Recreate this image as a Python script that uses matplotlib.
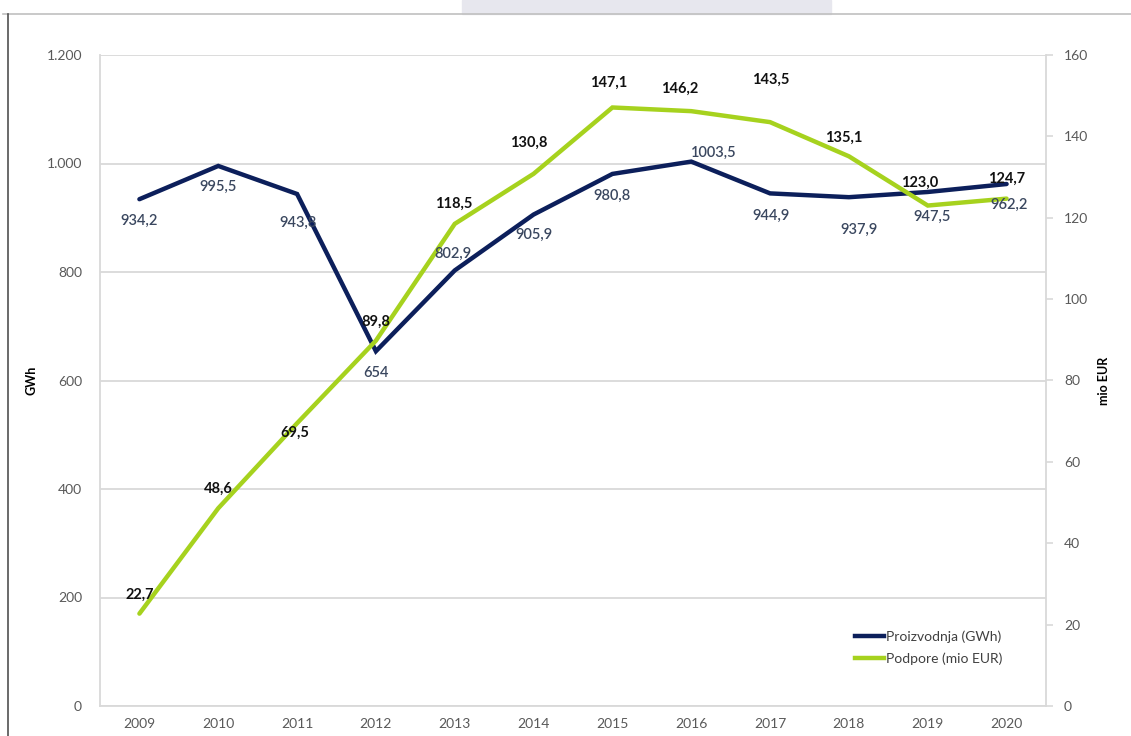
import matplotlib
matplotlib.use("Agg")
import matplotlib.pyplot as plt
from matplotlib.lines import Line2D
from matplotlib.patches import Rectangle

years = ["2009", "2010", "2011", "2012", "2013", "2014", "2015", "2016", "2017", "2018", "2019", "2020"]
proizvodnja = [934.2, 995.5, 943.8, 654, 802.9, 905.9, 980.8, 1003.5, 944.9, 937.9, 947.5, 962.2]
podpore = [22.7, 48.6, 69.5, 89.8, 118.5, 130.8, 147.1, 146.2, 143.5, 135.1, 123.0, 124.7]
proizvodnja_labels = ["934,2", "995,5", "943,8", "654", "802,9", "905,9", "980,8", "1003,5", "944,9", "937,9", "947,5", "962,2"]
podpore_labels = ["22,7", "48,6", "69,5", "89,8", "118,5", "130,8", "147,1", "146,2", "143,5", "135,1", "123,0", "124,7"]
left_ticks = [0, 200, 400, 600, 800, 1000, 1200]
left_tick_labels = ["0", "200", "400", "600", "800", "1.000", "1.200"]
right_ticks = [0, 20, 40, 60, 80, 100, 120, 140, 160]

# label offsets in pixels (dx, dy) relative to the data point
prod_off = [(0, -22), (0, -21), (1, -29), (0, -22), (-2, 17), (0, -20), (0, -22),
            (23, 9), (1, -22), (10, -33), (4, -25), (2, -21)]
pod_off = [(0, 19), (0, 19), (-2, -10), (0, 19), (-1, 20), (-5, 31), (-4, 25),
           (-12, 22), (1, 42), (-5, 19), (-8, 23), (0, 20)]

NAVY = "#0c1f5b"
GREEN = "#a6d21e"
GRID = "#d9d9d9"
TICK = "#595959"
LABEL_NAVY = "#3a475f"

plt.rcParams['font.family'] = ['Lato', 'DejaVu Sans']

W, H = 1131, 736
fig = plt.figure(figsize=(W / 100, H / 100), dpi=100)

# decorative frame
TOPLINE = 14
fig.patches.append(Rectangle((462 / W, 1 - TOPLINE / H), (831 - 462) / W, TOPLINE / H,
                             transform=fig.transFigure, color="#e7e7ee", zorder=0))
fig.add_artist(Line2D([3 / W, 1], [1 - TOPLINE / H, 1 - TOPLINE / H], transform=fig.transFigure,
                      color="#c0c0c0", lw=1.2))
fig.add_artist(Line2D([8 / W, 8 / W], [0, 1 - TOPLINE / H], transform=fig.transFigure,
                      color="#505050", lw=1.2))

left, right, top, bottom = 100, 1046, 55, 706
ax = fig.add_axes([left / W, 1 - bottom / H, (right - left) / W, (bottom - top) / H])
ax2 = ax.twinx()

x = list(range(len(years)))
ax.plot(x, proizvodnja, color=NAVY, lw=3.2, solid_capstyle="round", solid_joinstyle="miter",
        label="Proizvodnja (GWh)", zorder=3)
ax2.plot(x, podpore, color=GREEN, lw=3.2, solid_capstyle="round", solid_joinstyle="miter",
         label="Podpore (mio EUR)", zorder=3)

ax.set_xlim(-0.5, len(years) - 0.5)
ax.set_ylim(0, 1200)
ax2.set_ylim(0, 160)
ax.set_yticks(left_ticks)
ax.set_yticklabels(left_tick_labels)
ax2.set_yticks(right_ticks)
ax.set_xticks(x)
ax.set_xticklabels(years)

ax.grid(axis="y", color=GRID, lw=1.3)
ax.set_axisbelow(True)
for s in ["top", "right"]:
    ax.spines[s].set_visible(False)
for s in ["top", "left", "bottom"]:
    ax2.spines[s].set_visible(False)
ax.spines["left"].set_color(GRID)
ax.spines["left"].set_linewidth(1.3)
ax.spines["bottom"].set_color(GRID)
ax.spines["bottom"].set_linewidth(1.3)
ax2.spines["right"].set_color(GRID)
ax2.spines["right"].set_linewidth(1.3)

ax.tick_params(axis="y", length=0, pad=13, labelsize=10, labelcolor=TICK)
ax.tick_params(axis="x", length=0, pad=9, labelsize=10, labelcolor=TICK)
ax2.tick_params(axis="y", length=5, width=1.2, color=GRID, pad=8, labelsize=10, labelcolor=TICK)

ax.set_ylabel("GWh", fontsize=9, fontweight="bold", color="#000000")
ax.yaxis.set_label_coords((38 - left) / (right - left), 0.5)
ax2.set_ylabel("mio EUR", fontsize=9, fontweight="bold", color="#000000")
ax2.yaxis.set_label_coords((1098 - left) / (right - left), 0.5)

for i in x:
    ax2.annotate(proizvodnja_labels[i], (i, proizvodnja[i]), xycoords=ax.transData,
                 xytext=prod_off[i], textcoords="offset pixels", ha="center", va="center",
                 fontsize=10.5, fontweight="semibold", color=LABEL_NAVY, zorder=5)
    ax2.annotate(podpore_labels[i], (i, podpore[i]), xycoords=ax2.transData,
                 xytext=pod_off[i], textcoords="offset pixels", ha="center", va="center",
                 fontsize=10.5, fontweight="bold", color="#111111", zorder=5)

handles = [Line2D([], [], color=NAVY, lw=3.2), Line2D([], [], color=GREEN, lw=3.2)]
fig.legend(handles, ["Proizvodnja (GWh)", "Podpore (mio EUR)"], loc="upper left",
           bbox_to_anchor=(842 / W, 1 - 618 / H), frameon=False, fontsize=10,
           handlelength=2.1, handletextpad=0.15, labelspacing=0.65, labelcolor="#404040")

fig.savefig("out.png", dpi=100)
